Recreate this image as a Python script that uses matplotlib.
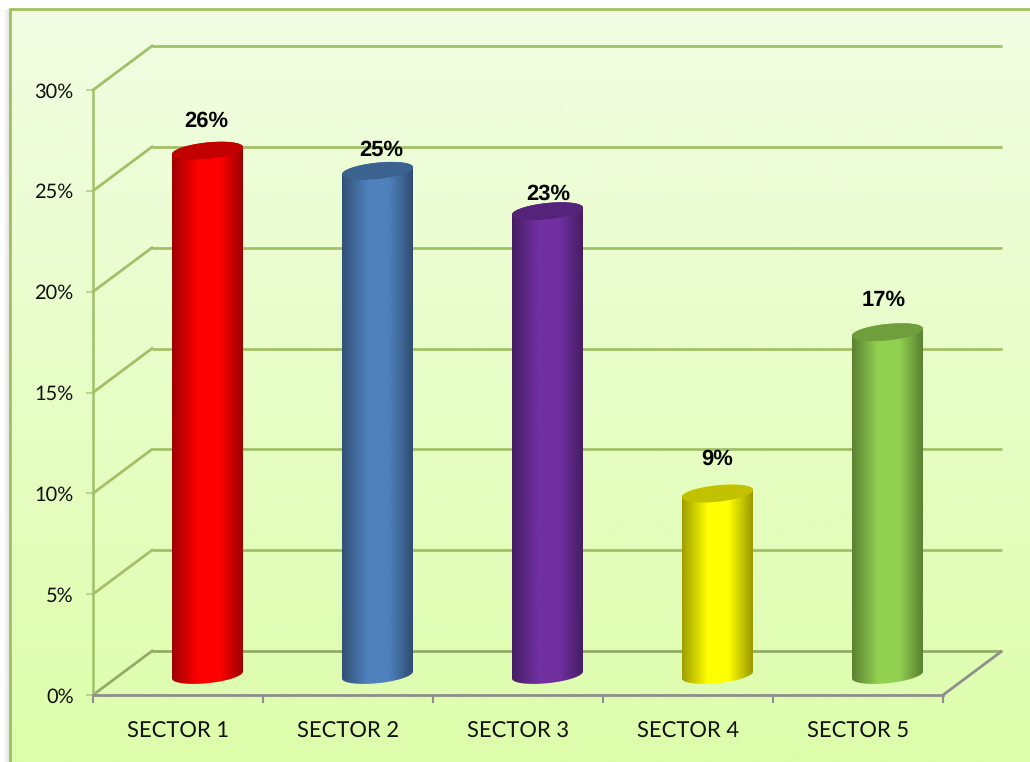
import numpy as np
import matplotlib
matplotlib.use("Agg")
import matplotlib.pyplot as plt
from matplotlib.colors import to_rgb
from matplotlib.patches import Polygon

plt.rcParams["text.hinting"] = "no_hinting"
plt.rcParams["text.hinting_factor"] = 1

# chart values
sectors = ["SECTOR 1", "SECTOR 2", "SECTOR 3", "SECTOR 4", "SECTOR 5"]
shares = [26, 25, 23, 9, 17]
colors = ["#FF0000", "#4F81BD", "#7030A0", "#FFFF00", "#92D050"]
y_ticks = [0, 5, 10, 15, 20, 25, 30]

# px sizes of the plot box, the dpi is 100 so 1 unit = 1 px
W, H = 1030, 762
left, right, top, bottom = 93, 943, 90, 695
px_x = 5 / (right - left)
px_y = 30 / (bottom - top)

depth_x = 59 * px_x
depth_y = 44 * px_y
lift = 20 * px_y  # cylinders stand in the middle of the floor
half_w = 35.5 * px_x
tilt = 3.5 * px_y
half_h = 8.2 * px_y

green = "#A0C166"
grey = "#8F8F8F"
floor_green = "#93AB66"

fig = plt.figure(figsize=(W / 100, H / 100), dpi=100)
fig.patch.set_facecolor("white")

# background panel with the vertical gradient
bg = fig.add_axes([0, 0, 1, 1])
bg.set_axis_off()
c_top = np.array(to_rgb("#F2FDE3"))
c_bot = np.array(to_rgb("#DDFDAB"))
grad = np.linspace(0, 1, 256)[:, None, None] * (c_bot - c_top) + c_top
bg.imshow(grad, extent=[10, W, H, 9], aspect="auto", interpolation="bilinear")

# soft shadow left of the panel
shadow = np.zeros((1, 32, 4))
shadow[..., :3] = 0.55
shadow[..., 3] = np.linspace(0, 0.32, 32) ** 1.5 * 1.6
bg.imshow(shadow, extent=[2, 10, H, 9], aspect="auto", interpolation="bilinear")

bg.plot([10, 10, W], [H, 9, 9], color="#9FC060", lw=2.0, solid_joinstyle="miter")
bg.set_xlim(0, W)
bg.set_ylim(H, 0)

ax = fig.add_axes([left / W, 1 - bottom / H, (right - left) / W, (bottom - top) / H])
ax.patch.set_alpha(0)
for s in ["top", "right"]:
    ax.spines[s].set_visible(False)
ax.spines["left"].set_color(green)
ax.spines["left"].set_linewidth(1.8)
ax.spines["bottom"].set_color(grey)
ax.spines["bottom"].set_linewidth(2.0)

# back wall lines and the diagonals on the side wall
for t in y_ticks:
    c_back = floor_green if t == 0 else green
    ax.plot([depth_x, 5 + depth_x], [t + depth_y, t + depth_y], color=c_back, lw=2.0, clip_on=False, zorder=1,
            solid_capstyle="butt")
    ax.plot([0, depth_x], [t, t + depth_y], color=c_back, lw=2.0, clip_on=False, zorder=1)
# right edge of the floor
ax.plot([5, 5 + depth_x], [0, depth_y], color=grey, lw=2.0, clip_on=False, zorder=1, solid_capstyle="butt")


def ellipse_pts(cx, cy, t):
    return np.column_stack([cx + half_w * np.cos(t), cy + tilt * np.cos(t) + half_h * np.sin(t)])


def cylinder(cx, value, color):
    y0 = lift
    y1 = lift + value
    base = np.array(to_rgb(color))

    # body: lower arc of the base, then upper arc of the top
    low = ellipse_pts(cx, y0, np.linspace(np.pi, 2 * np.pi, 60))
    upp = ellipse_pts(cx, y1, np.linspace(0, np.pi, 60))
    body = Polygon(np.vstack([low, upp]), closed=True, transform=ax.transData, facecolor="none", edgecolor="none")
    ax.add_patch(body)

    shade = np.interp(np.linspace(0, 1, 128), [0, 0.36, 0.66, 1], [0.62, 1, 1, 0.6])
    strip = shade[None, :, None] * base
    im = ax.imshow(strip, extent=[cx - half_w, cx + half_w, y0 - 2, y1 + 2], aspect="auto", interpolation="bilinear", zorder=3)
    im.set_clip_path(body)

    cap = ellipse_pts(cx, y1, np.linspace(0, 2 * np.pi, 120))
    ax.add_patch(Polygon(cap, closed=True, facecolor=base * 0.76, edgecolor="none", zorder=4))


# small label shifts in px, x then y
nudge_x = [-1, 4, 1, 0, -4]
nudge_y = [3, -6, -10, 8, 5]

for i, (v, c) in enumerate(zip(shares, colors)):
    cx = i + 0.5 + depth_x / 2
    cylinder(cx, v, c)
    ax.annotate(f"{v}%", xy=(cx, lift + v), xytext=(nudge_x[i], 21 + nudge_y[i]), textcoords="offset pixels",
                ha="center", va="baseline", fontsize=15.5, fontweight="bold", family="Liberation Sans",
                color="black", zorder=5)

ax.set_xlim(0, 5)
ax.set_ylim(0, 30)

ax.set_yticks(y_ticks)
ax.set_yticklabels([f"{t}%" for t in y_ticks], family="Lato", fontsize=14.5, color="#111111")
ax.tick_params(axis="y", length=5, width=1.2, color="#B5CC8A", pad=9)

# ticks sit between the categories, labels in the middle
ax.set_xticks(range(6))
ax.set_xticklabels([])
ax.set_xticks(np.arange(5) + 0.5, sectors, minor=True, family="Lato", fontsize=16, color="#111111")
ax.tick_params(axis="x", which="major", length=6, width=1.5, color=grey)
ax.tick_params(axis="x", which="minor", length=0, pad=19)

fig.savefig("out.png", dpi=100)
